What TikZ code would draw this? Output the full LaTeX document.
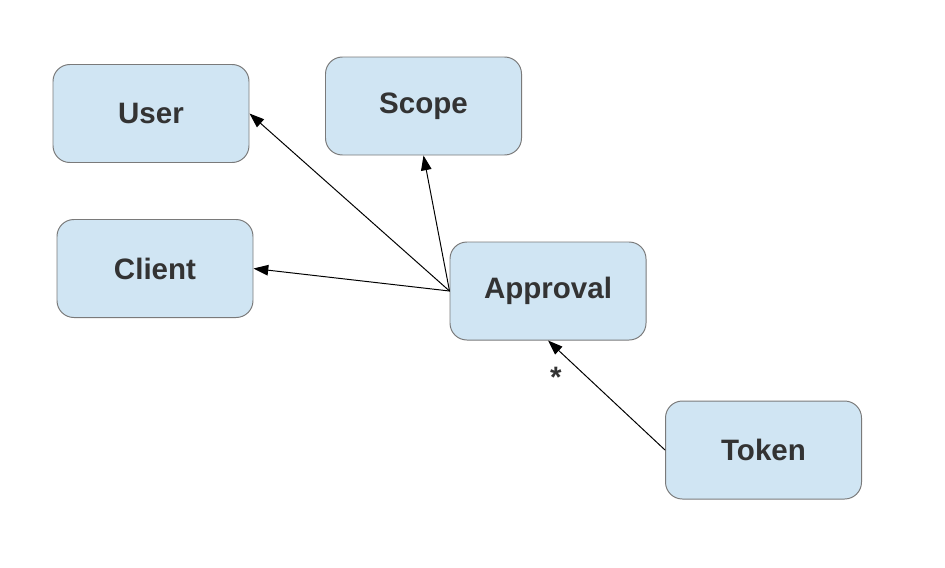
\documentclass[tikz,border=0pt]{standalone}
\usepackage{fontspec}
\setmainfont{Liberation Sans}
\usetikzlibrary{arrows.meta}
\definecolor{boxfill}{HTML}{D0E5F3}
\definecolor{boxline}{HTML}{7A7A7A}
\definecolor{boxtext}{HTML}{333333}
\begin{document}
\begin{tikzpicture}[x=0.025cm, y=-0.025cm, line cap=round, line join=round,
  >={Triangle[length=10.5pt, width=7.5pt]},
  entity/.style={draw=boxline, line width=0.7pt, fill=boxfill, rounded corners=12pt,
    minimum width=196*0.025cm, minimum height=98*0.025cm, inner sep=0pt,
    text=boxtext, font=\fontsize{21}{25}\selectfont\bfseries},
  link/.style={->, line width=0.7pt, black}]

\useasboundingbox (0,0) rectangle (945,567);

\node[entity] (user)     at (151,113.5) {User};
\node[entity] (scope)    at (423.5,106) {Scope};
\node[entity] (client)   at (155,268.5) {Client};
\node[entity] (approval) at (548,291)   {Approval};
\node[entity] (token)    at (763.5,450) {Token};

\draw[link] (approval.west) -- (user.east);
\draw[link] (approval.west) -- (scope.south);
\draw[link] (approval.west) -- (client.east);
\draw[link] (token.west) -- (approval.south)
  node[pos=0.66, left=15pt, text=boxtext, font=\fontsize{21}{25}\selectfont\bfseries] (many) {*};

\end{tikzpicture}
\end{document}
